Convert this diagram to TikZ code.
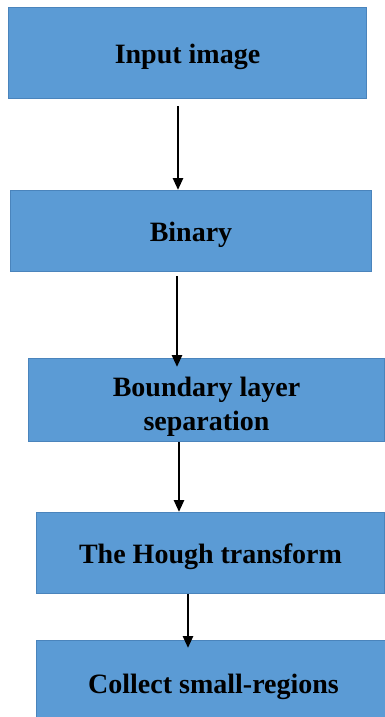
\documentclass[tikz,border=0pt]{standalone}
\usepackage{fontspec}
\setmainfont{Liberation Serif}
\usepackage{tikz}
\usetikzlibrary{arrows.meta,positioning}

\definecolor{boxblue}{HTML}{5B9BD5}
\definecolor{boxline}{HTML}{4A84BC}

\begin{document}
\begin{tikzpicture}[
  x=1pt, y=-1pt,
  stage/.style={rectangle, draw=boxline, line width=1pt, fill=boxblue, anchor=north west, align=center, inner sep=0pt,
    font=\fontsize{28}{34}\selectfont\bfseries},
  arr/.style={-{Triangle[length=12pt,width=10pt]}, line width=2.6pt}
]
\useasboundingbox (0,0) rectangle (385,717);

\node[stage, minimum width=358pt, minimum height=91pt] (input) at (8,7) {\rule{0pt}{28pt}Input image};
\node[stage, minimum width=361pt, minimum height=81pt] (binary) at (10,190) {\rule{0pt}{28pt}Binary};
\node[stage, minimum width=356pt, minimum height=83pt] (boundary) at (28,358) {\rule{0pt}{32pt}Boundary layer\\separation};
\node[stage, minimum width=348pt, minimum height=81pt] (hough) at (36,512) {\rule{0pt}{28pt}The Hough transform};
\node[stage, minimum width=354pt, minimum height=84pt] (collect) at (36,640) {\rule{0pt}{28pt}Collect small-regions};

\draw[arr] (input.south -| 178,0) ++(0,7) -- (binary.north -| 178,0);
\draw[arr] (binary.south -| 177,0) ++(0,4) -- ([yshift=-9pt]boundary.north -| 177,0);
\draw[arr] (boundary.south -| 179,0) -- (hough.north -| 179,0);
\draw[arr] (hough.south -| 188,0) -- ([yshift=-8pt]collect.north -| 188,0);
\end{tikzpicture}
\end{document}
